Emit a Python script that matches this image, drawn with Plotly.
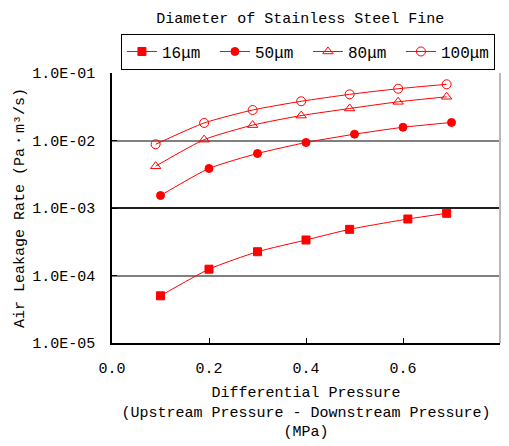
import plotly.graph_objects as go

# Data
x16 = [0.10, 0.20, 0.30, 0.40, 0.49, 0.61, 0.69]
y16 = [5.0e-5, 1.24e-4, 2.25e-4, 3.36e-4, 4.83e-4, 6.87e-4, 8.35e-4]
x50 = [0.10, 0.20, 0.30, 0.40, 0.50, 0.60, 0.70]
y50 = [1.53e-3, 3.85e-3, 6.42e-3, 9.34e-3, 1.24e-2, 1.57e-2, 1.85e-2]
x80 = [0.09, 0.19, 0.29, 0.39, 0.49, 0.59, 0.69]
y80 = [4.16e-3, 1.03e-2, 1.69e-2, 2.34e-2, 2.98e-2, 3.74e-2, 4.44e-2]
x100 = [0.09, 0.19, 0.29, 0.39, 0.49, 0.59, 0.69]
y100 = [8.79e-3, 1.82e-2, 2.83e-2, 3.81e-2, 4.83e-2, 5.85e-2, 6.80e-2]

series_names = ["16μm", "50μm", "80μm", "100μm"]
ytickvals = [1e-5, 1e-4, 1e-3, 1e-2, 1e-1]
yticktext = ["1.0E-05", "1.0E-04", "1.0E-03", "1.0E-02", "1.0E-01"]
xtickvals = [0.0, 0.2, 0.4, 0.6, 0.8]
xticktext = ["0.0", "0.2", "0.4", "0.6", "0.8"]

FONT = "Liberation Mono"
RED = "#FF0000"

fig = go.Figure()

# black gridline at 1E-03
fig.add_trace(go.Scatter(x=[0, 0.8], y=[1e-3, 1e-3], mode="lines",
                         line=dict(color="black", width=1.5),
                         showlegend=False, hoverinfo="skip"))

specs = [
    (x16, y16, "square", 8),
    (x50, y50, "circle", 8),
    (x80, y80, "triangle-up-open", 9),
    (x100, y100, "circle-open", 9),
]
for (xs, ys, sym, sz), name in zip(specs, series_names):
    fig.add_trace(go.Scatter(
        x=xs, y=ys, mode="lines+markers", name=name,
        line=dict(color=RED, width=1, shape="spline", smoothing=0.6),
        marker=dict(symbol=sym, size=sz, color=RED, line=dict(color=RED, width=1)),
        cliponaxis=False,
    ))

fig.update_layout(
    width=509, height=446,
    margin=dict(l=112, r=9, t=73, b=103, autoexpand=False),
    paper_bgcolor="white", plot_bgcolor="white",
    font=dict(family=FONT, size=15, color="black"),
    title=dict(text="Diameter of Stainless Steel Fine", x=0.59, xanchor="center",
               y=0.96, yanchor="middle", font=dict(family=FONT, size=15)),
    legend=dict(orientation="h", x=0.505, xanchor="center", y=1.146, yanchor="top",
                bordercolor="black", borderwidth=1, bgcolor="white",
                font=dict(family=FONT, size=16), itemwidth=30,
                entrywidth=48, entrywidthmode="pixels", tracegroupgap=0),
    showlegend=True,
)

fig.update_xaxes(
    range=[0, 0.8], tickvals=xtickvals, ticktext=xticktext,
    showgrid=False, zeroline=False,
    showline=True, linecolor="black", linewidth=1.5,
    ticks="inside", ticklen=5, tickcolor="black",
    ticklabelstandoff=10,
    tickfont=dict(family=FONT, size=15),
    title=dict(text="Differential Pressure<br>(Upstream Pressure - Downstream Pressure)<br>(MPa)",
               font=dict(family=FONT, size=15), standoff=10),
)
fig.update_yaxes(
    type="log", range=[-5, -1], tickvals=ytickvals, ticktext=yticktext,
    showgrid=True, gridcolor="#808080", gridwidth=1.5,
    zeroline=False,
    showline=True, linecolor="black", linewidth=1.5,
    ticks="inside", ticklen=5, tickcolor="black",
    ticklabelstandoff=12,
    tickfont=dict(family=FONT, size=15),
    title=dict(text="Air Leakage Rate (Pa・m³/s)", font=dict(family=FONT, size=15), standoff=4),
)

# right border (light gray)
fig.add_shape(type="line", xref="paper", yref="paper", x0=1, x1=1, y0=0, y1=1,
              line=dict(color="#b8b8b8", width=2))

fig.write_html("out.html")
